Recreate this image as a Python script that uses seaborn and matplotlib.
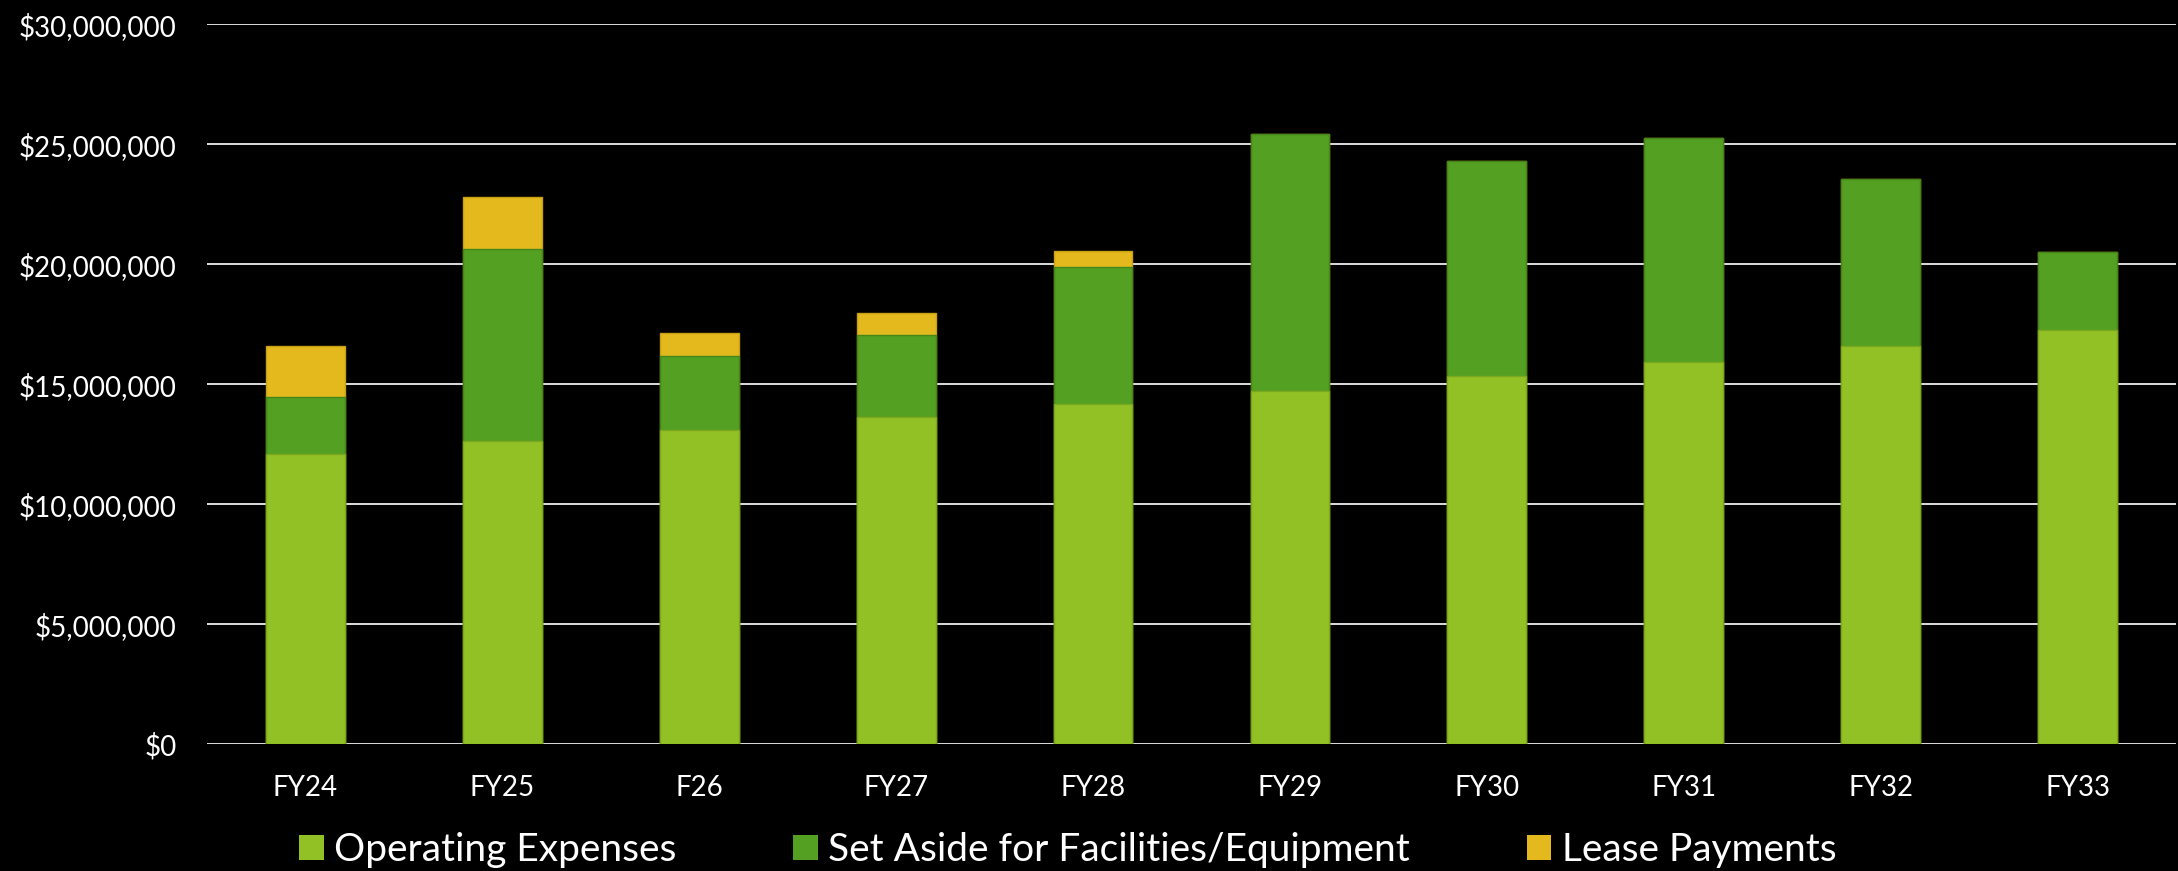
import matplotlib
matplotlib.use("Agg")
import matplotlib.pyplot as plt
import matplotlib.ticker as mticker
from matplotlib.patches import Patch
import seaborn as sns
import pandas as pd
import numpy as np

categories = ["FY24", "FY25", "F26", "FY27", "FY28", "FY29", "FY30", "FY31", "FY32", "FY33"]
operating = [12.11, 12.62, 13.11, 13.65, 14.19, 14.73, 15.35, 15.94, 16.61, 17.28]
set_aside = [2.35, 8.03, 3.08, 3.40, 5.70, 10.69, 8.94, 9.32, 6.93, 3.22]
lease = [2.15, 2.15, 0.93, 0.93, 0.68, 0.0, 0.0, 0.0, 0.0, 0.0]
series_names = ["Operating Expenses", "Set Aside for Facilities/Equipment", "Lease Payments"]
colors = ["#92C126", "#54A022", "#E4B91E"]
edges = ["#7BA81E", "#44861A", "#C9A012"]

M = 1_000_000
df = pd.DataFrame({
    "year": categories,
    "op": np.array(operating) * M,
    "sa": np.array(set_aside) * M,
    "lp": np.array(lease) * M,
})
df["lvl1"] = df["op"]
df["lvl2"] = df["op"] + df["sa"]
df["lvl3"] = df["op"] + df["sa"] + df["lp"]

sns.set_theme(style="dark")
plt.rcParams["font.family"] = ["Lato", "DejaVu Sans"]

fig = plt.figure(figsize=(21.78, 8.71), dpi=100, facecolor="black")
ax = fig.add_axes([207 / 2178, 1 - 744.3 / 871, (2176 - 207) / 2178, (744.3 - 24.3) / 871])
ax.set_facecolor("black")

for col, c, e in [("lvl3", colors[2], edges[2]), ("lvl2", colors[1], edges[1]), ("lvl1", colors[0], edges[0])]:
    sns.barplot(data=df, x="year", y=col, order=categories, color=c, width=0.4,
                saturation=1, edgecolor=e, linewidth=1.0, ax=ax, zorder=3)

ax.set_ylim(0, 30 * M)
ax.set_xlim(-0.5, len(categories) - 0.5)
ax.yaxis.set_major_locator(mticker.MultipleLocator(5 * M))
ax.yaxis.set_major_formatter(mticker.FuncFormatter(lambda v, p: f"${v:,.0f}"))
ax.grid(axis="y", color="#DDDDDD", linewidth=1.4, zorder=0)
ax.grid(axis="x", visible=False)
ax.set_axisbelow(True)
for s in ax.spines.values():
    s.set_visible(False)
ax.set_xlabel("")
ax.set_ylabel("")
ax.tick_params(axis="y", length=0, pad=22, labelsize=20, labelcolor="white")
ax.tick_params(axis="x", length=0, pad=22, labelsize=20, labelcolor="white")

handles = [Patch(facecolor=c, edgecolor="none") for c in colors]
fig.legend(handles, series_names, loc="center", bbox_to_anchor=(1068 / 2178, 21 / 871),
           ncol=3, frameon=False, fontsize=28, labelcolor="white",
           handlelength=0.62, handleheight=0.62, handletextpad=0.28, columnspacing=3.0)

fig.savefig("out.png", dpi=100, facecolor="black")
